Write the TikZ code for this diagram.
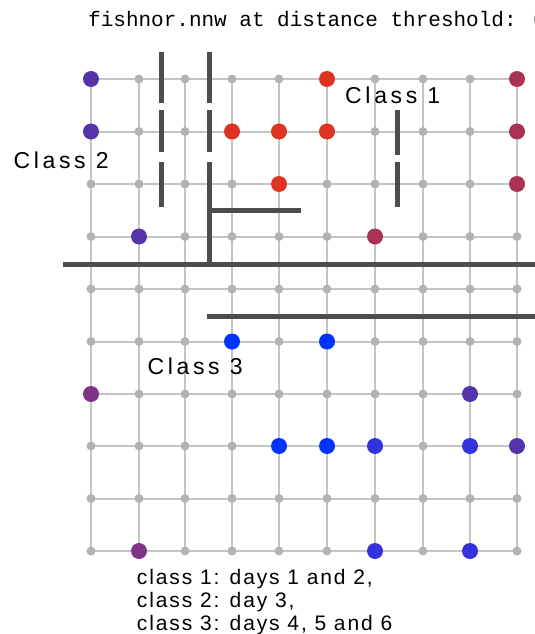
\documentclass[tikz,border=0pt]{standalone}
\usepackage{fontspec}
\setmainfont{Liberation Sans}
\newfontfamily\titlefont{Liberation Mono}
\newfontfamily\lblfont[LetterSpace=16]{Liberation Sans}
\newfontfamily\keyfont[LetterSpace=9]{Liberation Sans}
\usetikzlibrary{positioning}
\definecolor{somPurple}{HTML}{5533AA}
\definecolor{somCrimson}{HTML}{AA3355}
\definecolor{somRed}{HTML}{DD3322}
\definecolor{somBlue}{HTML}{0033FF}
\definecolor{somNavy}{HTML}{3333DD}
\definecolor{somPlum}{HTML}{7F3388}
\definecolor{somGrid}{HTML}{C4C4C4}
\definecolor{somDot}{HTML}{B3B3B3}
\definecolor{somWall}{HTML}{4D4D4D}
\tikzset{
  gridline/.style = {draw=somGrid, line width=2pt},
  unitdot/.style  = {circle, fill=somDot, inner sep=0pt, minimum size=9pt},
  hitdot/.style   = {circle, fill=#1, inner sep=0pt, minimum size=16pt},
  wall/.style     = {draw=somWall, line width=5pt},
  lbl/.style      = {font=\lblfont\fontsize{23pt}{27pt}\selectfont,
                     inner sep=0pt, anchor=base west},
  keylbl/.style   = {font=\keyfont\fontsize{21pt}{24pt}\selectfont,
                     inner sep=0pt, anchor=base west},
  ttl/.style      = {font=\titlefont\fontsize{21pt}{24pt}\selectfont,
                     inner sep=0pt, anchor=base west},
}

\begin{document}
\begin{tikzpicture}[x=1pt, y=-1pt]
  \useasboundingbox (0,0) rectangle (535,634);
  \foreach \y [count=\j from 0] in {79,131.5,184,236.5,289,341.5,394,446,498.5,551}
    \foreach \x [count=\i from 0] in {91,139,185,232,279,327,375,423,470,517}
      \coordinate (p\i-\j) at (\x,\y);
  \foreach \j in {0,...,9} {
    \draw[gridline] (p0-\j) -- (p9-\j);
    \draw[gridline] (p\j-0) -- (p\j-9);
  }
  \foreach \j in {0,...,9}
    \foreach \i in {0,...,9}
      \node[unitdot] (u\i-\j) at (p\i-\j) {};
  \foreach \i/\j/\c in {0/0/somPurple, 5/0/somRed, 9/0/somCrimson,
      0/1/somPurple, 3/1/somRed, 4/1/somRed, 5/1/somRed, 9/1/somCrimson,
      4/2/somRed, 9/2/somCrimson, 1/3/somPurple, 6/3/somCrimson,
      3/5/somBlue, 5/5/somBlue, 0/6/somPlum, 8/6/somPurple,
      4/7/somBlue, 5/7/somBlue, 6/7/somNavy, 8/7/somNavy, 9/7/somPurple,
      1/9/somPlum, 6/9/somNavy, 8/9/somNavy}
    \node[hitdot=\c] (h\i-\j) at (p\i-\j) {};

  \draw[wall] (161.7,52) -- (161.7,103) (161.7,110) -- (161.7,152)
              (161.7,162) -- (161.7,207);
  \draw[wall] (209.3,52) -- (209.3,103) (209.3,110) -- (209.3,152)
              (209.3,162) -- (209.3,264);
  \draw[wall] (397.7,110) -- (397.7,155) (397.7,162) -- (397.7,207);
  \draw[wall] (209.3,210) -- (301,210);
  \draw[wall] (63,264) -- (536,264);
  \draw[wall] (207,316) -- (536,316);

  \node[ttl] (title) at (88,26.7) {fishnor.nnw at distance threshold: 0};
  \node[lbl] (cls1) at (345,103) {Class 1};
  \node[lbl] (cls2) at (13.3,168.3) {Class 2};
  \node[lbl] (cls3) at (147.3,374) {Class 3};
  \node[keylbl] (key1) at (136.7,584) {class 1: days 1 and 2,};
  \node[keylbl] (key2) at (136.7,607.2) {class 2: day 3,};
  \node[keylbl] (key3) at (136.7,630.4) {class 3: days 4, 5 and 6};
\end{tikzpicture}
\end{document}
